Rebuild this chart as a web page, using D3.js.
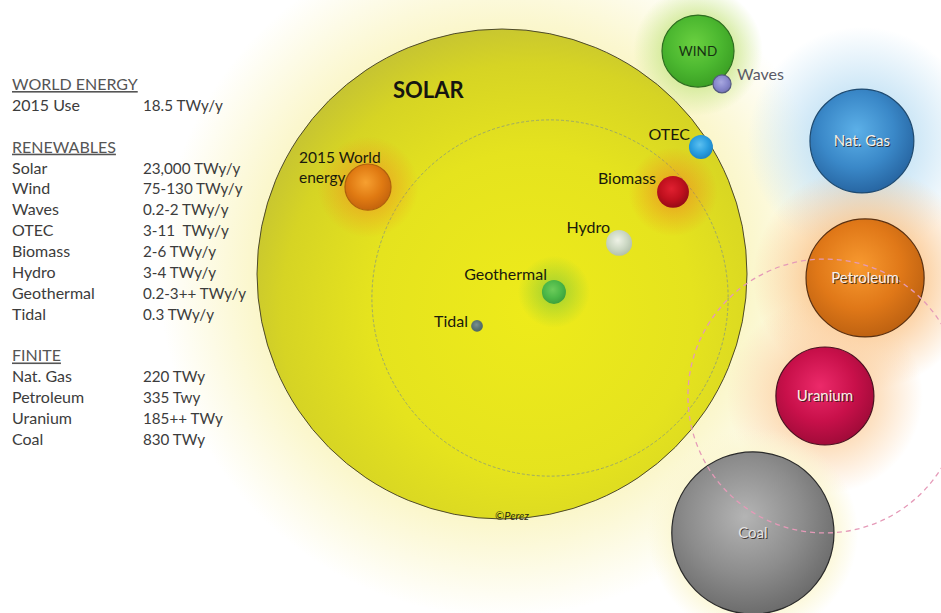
<!DOCTYPE html>
<html>
<head>
<meta charset="utf-8">
<script src="https://cdn.jsdelivr.net/npm/d3@7"></script>
<style>
  body { margin: 0; background: #fff; }
  svg { display: block; font-family: Lato, "Open Sans", sans-serif; }
</style>
</head>
<body>
<svg id="Target" width="941" height="613"></svg>
<script>

// left hand table
const tableRows = [
    ["WORLD ENERGY", "", true],
    ["2015 Use", "18.5 TWy/y", false],
    null,
    ["RENEWABLES", "", true],
    ["Solar", "23,000 TWy/y", false],
    ["Wind", "75-130 TWy/y", false],
    ["Waves", "0.2-2 TWy/y", false],
    ["OTEC", "3-11  TWy/y", false],
    ["Biomass", "2-6 TWy/y", false],
    ["Hydro", "3-4 TWy/y", false],
    ["Geothermal", "0.2-3++ TWy/y", false],
    ["Tidal", "0.3 TWy/y", false],
    null,
    ["FINITE", "", true],
    ["Nat. Gas", "220 TWy", false],
    ["Petroleum", "335 Twy", false],
    ["Uranium", "185++ TWy", false],
    ["Coal", "830 TWy", false]
];

// bubbles, in diagram units (solar centre = 0,0 and solar radius = 100)
const bubbleNames = ["2015 World energy", "Tidal", "Geothermal", "Hydro", "Biomass", "OTEC", "WIND", "Waves",
                     "Nat. Gas", "Petroleum", "Uranium", "Coal"];
const bubbleX = [-54.7, -10.2, 21.2, 47.8, 69.8, 81.2, 80.0, 89.8, 146.9, 148.2, 131.8, 102.4];
const bubbleY = [-35.5, 21.2, 7.3, -12.7, -33.5, -51.8, -91.0, -77.6, -54.3, 1.6, 49.8, 105.7];
const bubbleR = [9.4, 2.4, 4.9, 5.3, 6.5, 4.9, 14.7, 3.7, 21.2, 24.1, 20.0, 33.1];

const solar = { x: 0, y: 0, r: 100 };
const solarInner = { x: 19.6, y: 9.8, r: 72.7 };
const uraniumRing = { x: 131.8, y: 49.8, r: 55.9 };

const svg = d3.select("#Target");
const defs = svg.append("defs");

const xScale = d3.scaleLinear().domain([0, 100]).range([502, 747]);
const yScale = d3.scaleLinear().domain([0, 100]).range([274, 519]);
const rScale = d3.scaleLinear().domain([0, 100]).range([0, 245]);

const styles = {
    "2015 World energy": { fill: ["#f7a030", "#e07a12", "#c0600c"], stroke: "#b0600c", glow: "#f08a20", glowR: 2.2 },
    "Tidal": { fill: ["#7a9090", "#5a7472", "#4a6260"], stroke: "none" },
    "Geothermal": { fill: ["#6ccc5a", "#4cb848", "#3a9c3a"], stroke: "none", glow: "#6cc040", glowR: 3 },
    "Hydro": { fill: ["#eef2e6", "#ccd8c4", "#aebca8"], stroke: "none" },
    "Biomass": { fill: ["#e02030", "#c0101e", "#8e0a14"], stroke: "none", glow: "#f07820", glowR: 2.8 },
    "OTEC": { fill: ["#5cc0f0", "#2a9ee0", "#1a7ec0"], stroke: "none" },
    "WIND": { fill: ["#6ad040", "#4cb830", "#389c22"], stroke: "#2e6e20", glow: "#cde890", glowR: 1.8 },
    "Waves": { fill: ["#a8a8e0", "#8888cc", "#6e6eb0"], stroke: "#555a80" },
    "Nat. Gas": { fill: ["#5cb0e8", "#3a88c8", "#24609c"], stroke: "#1e4a70", glow: "#bfe0f4", glowR: 2.2 },
    "Petroleum": { fill: ["#f89a30", "#e07818", "#b85e10"], stroke: "#5a3010", glow: "#fbc68c", glowR: 1.9 },
    "Uranium": { fill: ["#ec2a6a", "#c8104a", "#9a0a36"], stroke: "#4a1020", glow: "#fcd4a8", glowR: 2.0 },
    "Coal": { fill: ["#b4b4b4", "#8c8c8c", "#666"], stroke: "#2a2a2a", glow: "#fbf6d0", glowR: 1.3 }
};

const bubbles = bubbleNames.map((name, i) => ({
    name: name,
    x: bubbleX[i],
    y: bubbleY[i],
    r: bubbleR[i],
    id: "b" + i,
    style: styles[name]
}));

// glow gradients
const addGlow = (id, color, inner, strength) => {
    const g = defs.append("radialGradient").attr("id", id);
    g.append("stop").attr("offset", 0).attr("stop-color", color).attr("stop-opacity", strength);
    g.append("stop").attr("offset", inner).attr("stop-color", color).attr("stop-opacity", strength * 0.85);
    g.append("stop").attr("offset", 1).attr("stop-color", color).attr("stop-opacity", 0);
};

addGlow("solarGlow", "#faf5c2", 0.72, 1);

bubbles.forEach(d => {

    const g = defs.append("radialGradient")
        .attr("id", d.id + "fill")
        .attr("cx", "45%").attr("cy", "40%").attr("r", "65%");
    g.append("stop").attr("offset", 0).attr("stop-color", d.style.fill[0]);
    g.append("stop").attr("offset", 0.55).attr("stop-color", d.style.fill[1]);
    g.append("stop").attr("offset", 1).attr("stop-color", d.style.fill[2]);

    if (d.style.glow) {
        addGlow(d.id + "glow", d.style.glow, 1 / d.style.glowR, 0.9);
    }
});

const solarFill = defs.append("radialGradient")
    .attr("id", "solarFill")
    .attr("cx", "56%").attr("cy", "58%").attr("r", "60%");
solarFill.append("stop").attr("offset", 0).attr("stop-color", "#eeeb1a");
solarFill.append("stop").attr("offset", 0.55).attr("stop-color", "#e5e31e");
solarFill.append("stop").attr("offset", 0.85).attr("stop-color", "#d6d424");
solarFill.append("stop").attr("offset", 1).attr("stop-color", "#c6c432");

function isInside(d) {
    return Math.hypot(d.x - solar.x, d.y - solar.y) + d.r < solar.r;
}

// halos outside the sun
svg.append("circle")
    .attr("cx", xScale(solar.x))
    .attr("cy", yScale(solar.y))
    .attr("r", rScale(solar.r * 1.4))
    .attr("fill", "url(#solarGlow)");

svg.selectAll("circle.outerGlow")
    .data(bubbles.filter(d => d.style.glow && !isInside(d)))
    .enter()
    .append("circle")
    .attr("class", "outerGlow")
    .attr("cx", d => xScale(d.x))
    .attr("cy", d => yScale(d.y))
    .attr("r", d => rScale(d.r * d.style.glowR))
    .attr("fill", d => `url(#${d.id}glow)`);

// the sun
svg.append("circle")
    .attr("cx", xScale(solar.x))
    .attr("cy", yScale(solar.y))
    .attr("r", rScale(solar.r))
    .attr("fill", "url(#solarFill)")
    .attr("stroke", "#4e4a2a")
    .attr("stroke-width", 1);

svg.append("circle")
    .attr("cx", xScale(solarInner.x))
    .attr("cy", yScale(solarInner.y))
    .attr("r", rScale(solarInner.r))
    .attr("fill", "none")
    .attr("stroke", "#8a9a78")
    .attr("stroke-width", 0.8)
    .attr("stroke-dasharray", "3 2");

svg.selectAll("circle.innerGlow")
    .data(bubbles.filter(d => d.style.glow && isInside(d)))
    .enter()
    .append("circle")
    .attr("class", "innerGlow")
    .attr("cx", d => xScale(d.x))
    .attr("cy", d => yScale(d.y))
    .attr("r", d => rScale(d.r * d.style.glowR))
    .attr("fill", d => `url(#${d.id}glow)`)
    .attr("opacity", 0.55);

svg.append("text")
    .attr("x", 393)
    .attr("y", 98)
    .attr("font-size", 22)
    .attr("font-weight", "bold")
    .attr("fill", "#151510")
    .text("SOLAR");

svg.append("text")
    .attr("x", 512)
    .attr("y", 520)
    .attr("text-anchor", "middle")
    .attr("font-size", 11)
    .attr("font-style", "italic")
    .attr("fill", "#2a2a10")
    .text("\u00a9Perez");

// bubbles
svg.selectAll("circle.bubble")
    .data(bubbles)
    .enter()
    .append("circle")
    .attr("class", "bubble")
    .attr("cx", d => xScale(d.x))
    .attr("cy", d => yScale(d.y))
    .attr("r", d => rScale(d.r))
    .attr("fill", d => `url(#${d.id}fill)`)
    .attr("stroke", d => d.style.stroke)
    .attr("stroke-width", 1.2);

svg.append("circle")
    .attr("cx", xScale(uraniumRing.x))
    .attr("cy", yScale(uraniumRing.y))
    .attr("r", rScale(uraniumRing.r))
    .attr("fill", "none")
    .attr("stroke", "#e59ab8")
    .attr("stroke-width", 1.3)
    .attr("stroke-dasharray", "5 4");

// labels of the renewables
const labelOffsets = {
    "Tidal": [-9, 1, "end"],
    "Geothermal": [-7, -12, "end"],
    "Hydro": [-9, -10, "end"],
    "Biomass": [-17, -8, "end"],
    "OTEC": [-11, -7, "end"]
};

bubbles.filter(d => labelOffsets[d.name]).forEach(d => {

    const o = labelOffsets[d.name];

    svg.append("text")
        .attr("x", xScale(d.x) + o[0])
        .attr("y", yScale(d.y) + o[1])
        .attr("text-anchor", o[2])
        .attr("font-size", 16)
        .attr("fill", "#1a1a0c")
        .text(d.name);
});

const world = bubbles[0];

svg.append("text")
    .attr("x", xScale(world.x) - 69)
    .attr("y", yScale(world.y) - 24)
    .attr("font-size", 15.5)
    .attr("fill", "#1a1a0c")
    .text("2015 World");

svg.append("text")
    .attr("x", xScale(world.x) - 69)
    .attr("y", yScale(world.y) - 4)
    .attr("font-size", 15.5)
    .attr("fill", "#1a1a0c")
    .text("energy");

const wind = bubbles[6];
const waves = bubbles[7];

svg.append("text")
    .attr("x", xScale(wind.x))
    .attr("y", yScale(wind.y) + 5)
    .attr("text-anchor", "middle")
    .attr("font-size", 13.5)
    .attr("fill", "#173212")
    .text("WIND");

svg.append("text")
    .attr("x", xScale(waves.x) + 15)
    .attr("y", yScale(waves.y) - 4)
    .attr("font-size", 16)
    .attr("fill", "#5a5a66")
    .text("Waves");

// finite labels, light text with a dark shadow
const finite = bubbles.slice(8);

const finiteLabel = svg.selectAll("g.finiteLabel")
    .data(finite)
    .enter()
    .append("g")
    .attr("transform", d => `translate(${xScale(d.x)}, ${yScale(d.y) + 5})`);

finiteLabel.append("text")
    .attr("x", 1)
    .attr("y", 1.2)
    .attr("text-anchor", "middle")
    .attr("font-size", 15)
    .attr("fill", "#2a1a14")
    .attr("opacity", 0.8)
    .text(d => d.name);

finiteLabel.append("text")
    .attr("text-anchor", "middle")
    .attr("font-size", 15)
    .attr("fill", d => d.name === "Coal" ? "#e4e4e4" : "#f6f0ea")
    .text(d => d.name);

// the table on the left
const rowY = d3.scaleLinear().domain([0, 17]).range([90, 445]);

const rows = svg.selectAll("g.row")
    .data(tableRows.map((r, i) => ({ row: r, i: i })).filter(d => d.row))
    .enter()
    .append("g")
    .attr("transform", d => `translate(0, ${rowY(d.i)})`);

rows.append("text")
    .attr("x", 12)
    .attr("font-size", 16)
    .attr("fill", d => d.row[2] ? "#555" : "#3c3c3c")
    .attr("text-decoration", d => d.row[2] ? "underline" : null)
    .text(d => d.row[0]);

rows.append("text")
    .attr("x", 143)
    .attr("font-size", 15.2)
    .attr("fill", "#3c3c3c")
    .style("white-space", "pre")
    .text(d => d.row[1]);

</script>
</body>
</html>
